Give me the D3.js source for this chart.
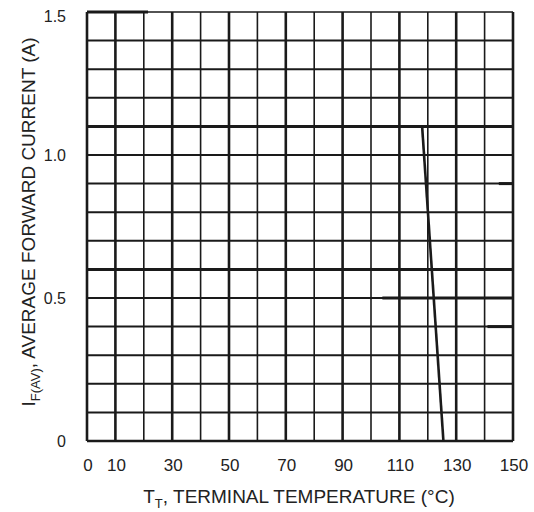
<!DOCTYPE html>
<html>
<head>
<meta charset="utf-8">
<script src="https://cdn.jsdelivr.net/npm/d3@7"></script>
<style>
  body { margin: 0; background: #fff; }
  svg text { font-family: "Liberation Sans", Arial, sans-serif; fill: #222; }
</style>
</head>
<body>
<div id="chart"></div>
<script>
// chart data
const tempTicks = [0, 10, 30, 50, 70, 90, 110, 130, 150];
const currentTicks = [0, 0.5, 1.0, 1.5];
const currentLabels = ["0", "0.5", "1.0", "1.5"];
const curveTemp = [118, 125.5];
const curveCurrent = [1.1, 0];

// heavier grid pieces seen in the original drawing (data units)
const heavyFrom = [0, 0, 104, 141, 145, 0, 0];
const heavyTo = [150, 150, 150, 150, 150, 21.5, 12];
const heavyAt = [1.1, 0.6, 0.5, 0.4, 0.9, 1.5, 1.1];

const W = 534, H = 512;
const plotL = 87, plotR = 513, plotT = 12, plotB = 441;

const svg = d3.select('#chart')
    .append('svg')
    .attr('width', W)
    .attr('height', H);

const x = d3.scaleLinear().domain([0, 150]).range([plotL, plotR]);
const y = d3.scaleLinear().domain([0, 1.5]).range([plotB, plotT]);

const ink = '#1a1a1a';

// vertical grid, every 10 degrees
const vLines = x.ticks(15);
svg.selectAll('line.v')
    .data(vLines)
    .enter()
    .append('line')
    .attr('x1', d => x(d)).attr('x2', d => x(d))
    .attr('y1', plotT).attr('y2', plotB)
    .attr('stroke', ink)
    .attr('stroke-width', d => (d / 10) % 2 === 1 || d === 0 || d === 150 ? 2.6 : 1.6);

// horizontal grid, every 0.1 A
const hLines = y.ticks(15);
svg.selectAll('line.h')
    .data(hLines)
    .enter()
    .append('line')
    .attr('x1', plotL).attr('x2', plotR)
    .attr('y1', d => y(d)).attr('y2', d => y(d))
    .attr('stroke', ink)
    .attr('stroke-width', d => d === 0 ? 2.6 : (Math.abs(d - 1.5) < 1e-9 ? 1.4 : 2));

// heavier pieces
svg.selectAll('line.heavy')
    .data(heavyAt)
    .enter()
    .append('line')
    .attr('x1', (d, i) => x(heavyFrom[i]))
    .attr('x2', (d, i) => x(heavyTo[i]))
    .attr('y1', d => y(d)).attr('y2', d => y(d))
    .attr('stroke', ink)
    .attr('stroke-width', 3);

// derating curve
const pts = curveTemp.map((t, i) => ({ t: t, c: curveCurrent[i] }));
svg.append('path')
    .datum(pts)
    .attr('d', d3.line().x(d => x(d.t)).y(d => y(d.c)))
    .attr('fill', 'none')
    .attr('stroke', ink)
    .attr('stroke-width', 2.6);

// y tick labels
svg.selectAll('text.yt')
    .data(currentTicks)
    .enter()
    .append('text')
    .attr('x', 66)
    .attr('y', d => Math.max(y(d) + 6, 22))
    .attr('text-anchor', 'end')
    .attr('font-size', 16)
    .text((d, i) => currentLabels[i]);

// x tick labels
svg.selectAll('text.xt')
    .data(tempTicks)
    .enter()
    .append('text')
    .attr('x', d => x(d) + 1)
    .attr('y', 471)
    .attr('text-anchor', 'middle')
    .attr('font-size', 17)
    .text(d => d);

// x title
const xt = svg.append('text')
    .attr('x', 299)
    .attr('y', 503)
    .attr('text-anchor', 'middle')
    .attr('font-size', 19);
xt.append('tspan').text('T');
xt.append('tspan').attr('font-size', 13).attr('dy', 5).text('T');
xt.append('tspan').attr('dy', -5).text(', TERMINAL TEMPERATURE (°C)');

// y title
const yt = svg.append('text')
    .attr('transform', 'translate(35,222) rotate(-90)')
    .attr('text-anchor', 'middle')
    .attr('font-size', 19);
yt.append('tspan').text('I');
yt.append('tspan').attr('font-size', 13).attr('dy', 5).text('F(AV)');
yt.append('tspan').attr('dy', -5).text(', AVERAGE FORWARD CURRENT (A)');
</script>
</body>
</html>
